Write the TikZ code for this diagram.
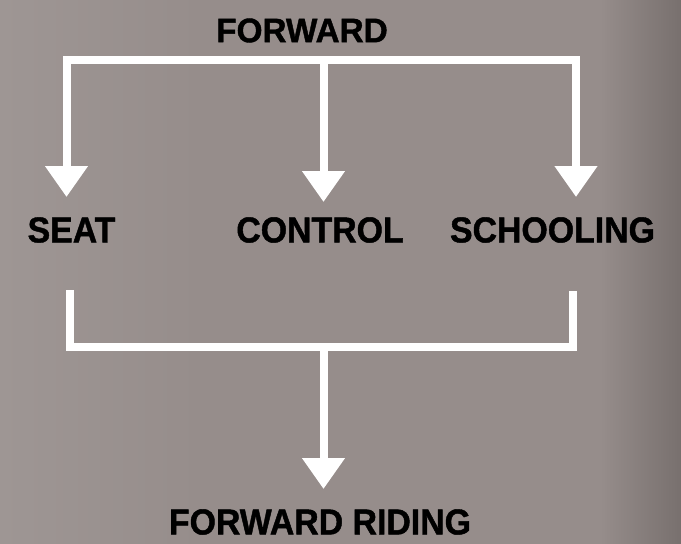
\documentclass[tikz,border=0pt]{standalone}
\usepackage{fontspec}
\setmainfont{Liberation Sans}[FakeStretch=0.94,BoldFeatures={FakeBold=1.2}]
\newfontfamily\fwdfont{Liberation Sans}[FakeStretch=0.98,BoldFeatures={FakeBold=1.2}]
\usetikzlibrary{arrows.meta}
\definecolor{bgmid}{RGB}{150,141,139}
\definecolor{bgleft}{RGB}{158,150,148}
\definecolor{bgright}{RGB}{120,112,110}
\begin{document}
\begin{tikzpicture}[x=1pt,y=-1pt,
  wline/.style={draw=white,line width=8pt,line join=miter,line cap=butt},
  tip/.style={-{Triangle[width=41pt,length=31pt]}},
  lbl/.style={inner sep=0pt,text=black,font=\fontsize{36}{40}\selectfont\bfseries},
  toplbl/.style={inner sep=0pt,text=black,font=\fontsize{34}{38}\selectfont\fwdfont\bfseries}]
\useasboundingbox (0,0) rectangle (681,544);
\fill[bgmid] (0,0) rectangle (681,544);
\shade[left color=bgleft,right color=bgmid] (0,0) rectangle (200,544);
\shade[left color=bgmid,right color=bgright] (600,0) rectangle (681,544);
% labels
\node[toplbl] (fwd) at (302,30.5) {FORWARD};
\node[lbl] (seat) at (71.5,230) {SEAT};
\node[lbl] (control) at (320,230) {CONTROL};
\node[lbl] (school) at (552.5,230) {SCHOOLING};
\node[lbl] (riding) at (320,522) {FORWARD RIDING};
% top branch
\coordinate (tl) at (66.5,60);
\coordinate (tr) at (576,60);
\coordinate (tc) at (323.5,60);
\coordinate (tipS) at (66.5,197);
\coordinate (tipC) at (323.5,202);
\coordinate (tipR) at (576,197);
\draw[wline] (tl) -- (tr);
\draw[wline,tip] (66.5,56) -- (tipS);
\draw[wline,tip] (tc) -- (tipC);
\draw[wline,tip] (576,56) -- (tipR);
% bottom branch
\coordinate (bl0) at (70,290);
\coordinate (bl) at (70,347);
\coordinate (br) at (573,347);
\coordinate (br0) at (573,291);
\coordinate (bc) at (323.5,347);
\coordinate (tipF) at (323.5,489);
\draw[wline] (bl0) -- (bl) -- (br) -- (br0);
\draw[wline,tip] (bc) -- (tipF);
\end{tikzpicture}
\end{document}
